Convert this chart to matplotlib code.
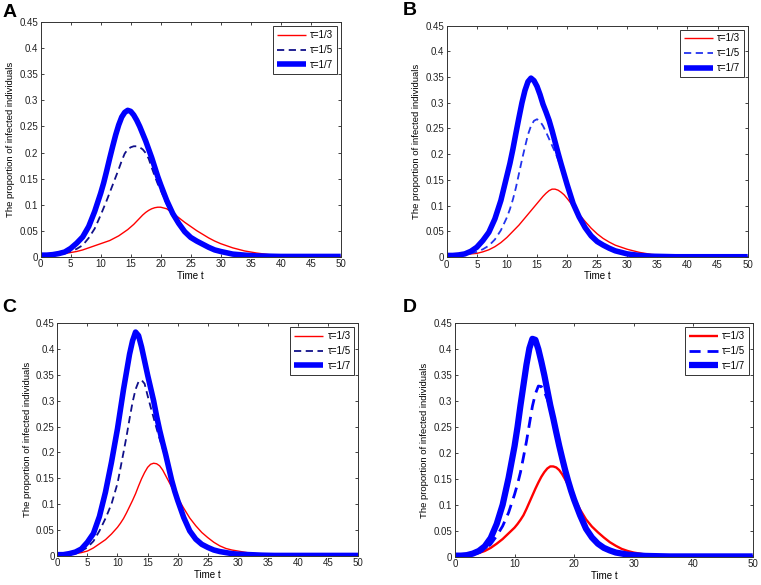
import matplotlib
matplotlib.use("Agg")
import matplotlib.pyplot as plt
from matplotlib.ticker import FormatStrFormatter, MultipleLocator

plt.rcParams['font.family'] = ['Liberation Sans', 'DejaVu Sans']

# time grid (days), finer around the peaks
t = [0, 1, 2, 3, 4, 5, 6, 7, 8, 9,
     10, 10.5, 11, 11.5, 12, 12.5, 13, 13.5, 14, 14.5, 15, 15.5, 16, 16.5, 17, 17.5,
     18, 18.5, 19, 19.5, 20,
     21, 22, 23, 24, 25, 26, 27, 28, 29, 30,
     32, 34, 36, 38, 40, 45, 50]

labels = ['\u03c4=1/3', '\u03c4=1/5', '\u03c4=1/7']

# panel A
a_tau3 = [0.003, 0.003, 0.004, 0.005, 0.006, 0.008, 0.010, 0.013, 0.017, 0.021,
          0.025, 0.027, 0.029, 0.031, 0.034, 0.037, 0.040, 0.044, 0.048, 0.052, 0.057,
          0.062, 0.068, 0.074, 0.080, 0.085, 0.089, 0.092, 0.094, 0.095, 0.095,
          0.092, 0.084, 0.075, 0.066, 0.058, 0.050, 0.043, 0.036, 0.030, 0.025,
          0.017, 0.011, 0.007, 0.004, 0.002, 0.001, 0.0005]
a_tau5 = [0.003, 0.003, 0.004, 0.005, 0.007, 0.010, 0.015, 0.022, 0.036, 0.054,
          0.080, 0.094, 0.108, 0.123, 0.138, 0.153, 0.168, 0.184, 0.198, 0.206, 0.210,
          0.212, 0.212, 0.210, 0.206, 0.199, 0.188, 0.171, 0.155, 0.140, 0.128,
          0.101, 0.078, 0.060, 0.046, 0.036, 0.028, 0.022, 0.017, 0.012, 0.009,
          0.005, 0.003, 0.0015, 0.001, 0.0005, 0.0005, 0.0005]
a_tau7 = [0.003, 0.003, 0.004, 0.006, 0.009, 0.016, 0.026, 0.038, 0.058, 0.087,
          0.122, 0.142, 0.165, 0.189, 0.212, 0.234, 0.253, 0.268, 0.277, 0.281, 0.279,
          0.272, 0.262, 0.250, 0.236, 0.222, 0.206, 0.190, 0.172, 0.154, 0.138,
          0.108, 0.083, 0.064, 0.048, 0.037, 0.030, 0.024, 0.018, 0.013, 0.010,
          0.005, 0.003, 0.0015, 0.001, 0.0005, 0.0005, 0.0005]

# panel B
b_tau3 = [0.003, 0.003, 0.004, 0.005, 0.006, 0.007, 0.010, 0.014, 0.020, 0.028,
          0.038, 0.044, 0.050, 0.056, 0.062, 0.069, 0.076, 0.083, 0.090, 0.097, 0.104,
          0.111, 0.118, 0.124, 0.129, 0.132, 0.132, 0.130, 0.126, 0.121, 0.114,
          0.099, 0.083, 0.069, 0.056, 0.045, 0.036, 0.029, 0.023, 0.019, 0.015,
          0.009, 0.005, 0.003, 0.002, 0.001, 0.0005, 0.0005]
b_tau5 = [0.003, 0.003, 0.004, 0.005, 0.007, 0.010, 0.015, 0.022, 0.034, 0.052,
          0.077, 0.093, 0.112, 0.135, 0.162, 0.189, 0.214, 0.238, 0.255, 0.265, 0.268,
          0.264, 0.255, 0.243, 0.230, 0.217, 0.204, 0.190, 0.172, 0.155, 0.137,
          0.102, 0.076, 0.056, 0.041, 0.030, 0.022, 0.016, 0.012, 0.009, 0.006,
          0.003, 0.0015, 0.001, 0.0005, 0.0005, 0.0005, 0.0005]
b_tau7 = [0.003, 0.003, 0.004, 0.006, 0.011, 0.019, 0.032, 0.048, 0.074, 0.110,
          0.158, 0.182, 0.210, 0.241, 0.271, 0.300, 0.324, 0.341, 0.348, 0.343, 0.332,
          0.316, 0.297, 0.282, 0.266, 0.246, 0.224, 0.202, 0.181, 0.161, 0.141,
          0.104, 0.078, 0.057, 0.041, 0.030, 0.023, 0.017, 0.012, 0.009, 0.006,
          0.003, 0.0015, 0.001, 0.0005, 0.0005, 0.0005, 0.0005]

# panel C
c_tau3 = [0.002, 0.002, 0.003, 0.004, 0.006, 0.009, 0.015, 0.023, 0.031, 0.042,
          0.055, 0.063, 0.072, 0.083, 0.095, 0.107, 0.120, 0.135, 0.149, 0.161, 0.171,
          0.177, 0.179, 0.178, 0.174, 0.166, 0.155, 0.144, 0.133, 0.122, 0.112,
          0.092, 0.073, 0.058, 0.045, 0.035, 0.026, 0.019, 0.014, 0.011, 0.009,
          0.005, 0.003, 0.002, 0.001, 0.0005, 0.0005, 0.0005]
c_tau5 = [0.002, 0.002, 0.003, 0.005, 0.009, 0.016, 0.028, 0.048, 0.072, 0.100,
          0.140, 0.170, 0.200, 0.231, 0.265, 0.297, 0.322, 0.337, 0.340, 0.333, 0.310,
          0.288, 0.267, 0.246, 0.226, 0.208, 0.190, 0.168, 0.144, 0.122, 0.104,
          0.072, 0.047, 0.032, 0.022, 0.016, 0.011, 0.008, 0.006, 0.004, 0.003,
          0.002, 0.001, 0.0005, 0.0005, 0.0005, 0.0005, 0.0005]
c_tau7 = [0.002, 0.002, 0.004, 0.007, 0.013, 0.026, 0.043, 0.076, 0.123, 0.181,
          0.246, 0.284, 0.322, 0.356, 0.390, 0.416, 0.433, 0.426, 0.404, 0.377, 0.350,
          0.325, 0.300, 0.270, 0.243, 0.219, 0.196, 0.171, 0.146, 0.125, 0.107,
          0.074, 0.048, 0.032, 0.022, 0.016, 0.011, 0.008, 0.006, 0.004, 0.003,
          0.002, 0.001, 0.0005, 0.0005, 0.0005, 0.0005, 0.0005]

# panel D
d_tau3 = [0.002, 0.002, 0.003, 0.004, 0.007, 0.011, 0.017, 0.025, 0.034, 0.045,
          0.056, 0.063, 0.071, 0.080, 0.092, 0.105, 0.118, 0.131, 0.143, 0.154, 0.163,
          0.170, 0.174, 0.174, 0.172, 0.167, 0.159, 0.149, 0.138, 0.126, 0.114,
          0.091, 0.072, 0.058, 0.047, 0.037, 0.028, 0.021, 0.015, 0.011, 0.008,
          0.004, 0.002, 0.001, 0.0005, 0.0005, 0.0005, 0.0005]
d_tau5 = [0.002, 0.002, 0.003, 0.005, 0.008, 0.014, 0.024, 0.040, 0.059, 0.085,
          0.120, 0.140, 0.163, 0.192, 0.222, 0.256, 0.290, 0.314, 0.329, 0.328, 0.318,
          0.304, 0.286, 0.262, 0.238, 0.213, 0.189, 0.166, 0.145, 0.126, 0.109,
          0.079, 0.053, 0.036, 0.025, 0.017, 0.012, 0.008, 0.006, 0.004, 0.003,
          0.0015, 0.001, 0.0005, 0.0005, 0.0005, 0.0005, 0.0005]
d_tau7 = [0.002, 0.002, 0.003, 0.006, 0.011, 0.020, 0.036, 0.063, 0.100, 0.152,
          0.213, 0.250, 0.292, 0.331, 0.370, 0.402, 0.420, 0.418, 0.400, 0.376, 0.350,
          0.321, 0.292, 0.267, 0.240, 0.214, 0.190, 0.167, 0.146, 0.127, 0.110,
          0.080, 0.054, 0.037, 0.025, 0.017, 0.012, 0.008, 0.006, 0.004, 0.003,
          0.0015, 0.001, 0.0005, 0.0005, 0.0005, 0.0005, 0.0005]

fig = plt.figure(figsize=(7.61, 5.85), dpi=100)

# (letter, rect, data, x tick step, red lw, dashed colour, dashed lw, thick lw)
panels = [
    ('A', [0.0535, 0.5612, 0.3942, 0.4007], (a_tau3, a_tau5, a_tau7), 5, 1.0, '#10108a', 1.3, 4.0),
    ('B', [0.5870, 0.5607, 0.3955, 0.3954], (b_tau3, b_tau5, b_tau7), 5, 1.0, '#2233ee', 1.3, 4.0),
    ('C', [0.0753, 0.0501, 0.3955, 0.3973], (c_tau3, c_tau5, c_tau7), 5, 1.0, '#10108a', 1.3, 4.0),
    ('D', [0.5979, 0.0484, 0.3912, 0.3990], (d_tau3, d_tau5, d_tau7), 10, 1.7, '#0000ff', 2.0, 4.5),
]
letter_pos = {'A': (0.003, 0.993), 'B': (0.529, 0.996), 'C': (0.003, 0.489), 'D': (0.529, 0.489)}

for letter, rect, (y3, y5, y7), xstep, lw3, dcol, lw5, lw7 in panels:
    ax = fig.add_axes(rect)
    ax.plot(t, y3, color='#ff0000', lw=lw3, label=labels[0], solid_capstyle='butt')
    ax.plot(t, y5, color=dcol, lw=lw5, ls=(0, (4, 2.5)), label=labels[1])
    ax.plot(t, y7, color='#0000ff', lw=lw7, label=labels[2],
            solid_capstyle='butt', solid_joinstyle='round')

    ax.set_xlim(0, 50)
    ax.set_ylim(0, 0.45)
    ax.xaxis.set_major_locator(MultipleLocator(xstep))
    ax.yaxis.set_major_locator(MultipleLocator(0.05))
    ax.yaxis.set_major_formatter(FormatStrFormatter('%g'))
    ax.xaxis.set_major_formatter(FormatStrFormatter('%g'))
    ax.tick_params(direction='in', length=2.5, width=0.6, labelsize=7, pad=2,
                   top=True, right=True, colors='#222222')
    for s in ax.spines.values():
        s.set_linewidth(0.7)
        s.set_color('#333333')

    ax.set_xlabel('Time t', fontsize=7, labelpad=1)
    ax.set_ylabel('The proportion of infected individuals', fontsize=6.8, labelpad=3)

    leg = ax.legend(loc='upper right', fontsize=7, fancybox=False, framealpha=1,
                    edgecolor='#333333', handlelength=3.0, handletextpad=0.4,
                    labelspacing=0.5, borderpad=0.4, borderaxespad=0.4)
    leg.get_frame().set_linewidth(0.7)

    lx, ly = letter_pos[letter]
    fig.text(lx, ly, letter, fontsize=14, fontweight='bold', ha='left', va='top')

fig.savefig('out.png', dpi=100)
